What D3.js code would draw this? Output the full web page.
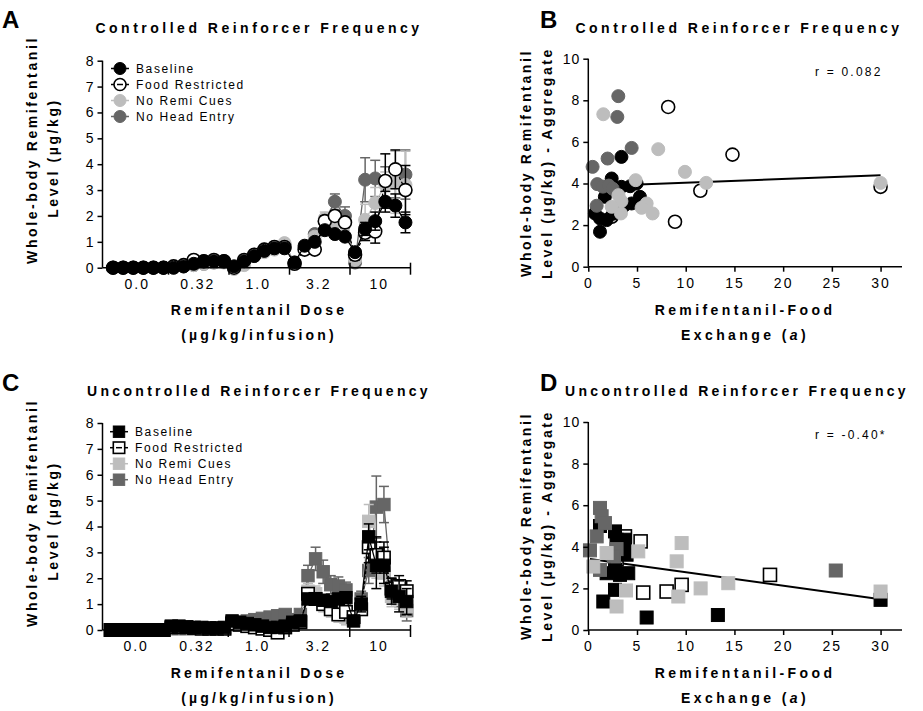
<!DOCTYPE html>
<html><head><meta charset="utf-8">
<script src="https://cdn.jsdelivr.net/npm/d3@7"></script>
<style>body{margin:0;background:#fff}svg{display:block;font-family:"Liberation Sans",Arial,sans-serif}</style>
</head><body>
<script>
// ---------- data ----------
const seriesNames = ["Baseline","Food Restricted","No Remi Cues","No Head Entry"];
const doseLabels = ["0.0","0.32","1.0","3.2","10"];

// Panel A: 30 sessions (6 per dose)
const A_baseline = [0,0,0,0,0,0, 0,0.05,0.15,0.25,0.25,0.25, 0.05,0.25,0.45,0.65,0.75,0.75, 0.2,0.85,1.0,1.45,1.3,1.2, 0.6,1.5,1.8,2.55,2.4,1.75];
const A_baselineErr = [0,0,0,0,0,0, 0,0,0,0,0,0, 0,0,0,0,0,0, 0.05,0.1,0.1,0.15,0.1,0.1, 0.1,0.25,0.35,0.4,0.45,0.4];
const A_food = [0,0,0,0,0,0, 0.05,0.1,0.3,0.25,0.3,0.25, 0,0.3,0.5,0.7,0.8,0.8, 0.15,0.7,0.7,1.8,2.0,1.75, 0.5,1.35,1.4,3.35,3.8,3.0];
const A_foodErr = [0,0,0,0,0,0, 0,0,0,0,0,0, 0,0,0,0,0,0, 0.05,0.1,0.1,0.2,0.2,0.2, 0.2,0.3,0.45,1.05,0.75,0.95];
const A_noCues = [0,0,0,0,0,0, 0,0.05,0.1,0.15,0.2,0.2, -0.05,0.1,0.45,0.6,0.7,0.95, 0.15,0.8,1.2,1.9,1.8,1.7, 0.3,1.85,2.5,3.2,3.3,3.2];
const A_noCuesErr = [0,0,0,0,0,0, 0,0,0,0,0,0, 0,0,0,0,0,0, 0.05,0.1,0.15,0.25,0.25,0.25, 0.1,0.6,0.6,0.5,1.2,1.3];
const A_noHead = [0,0,0,0,0,0, 0,0.05,0.1,0.15,0.2,0.25, 0.05,0.2,0.5,0.7,0.8,0.9, 0.2,0.8,1.3,1.8,2.55,2.0, 0.2,3.4,3.45,3.3,3.3,3.6];
const A_noHeadErr = [0,0,0,0,0,0, 0,0,0,0,0,0, 0,0,0,0,0,0, 0.05,0.1,0.1,0.25,0.3,0.35, 0.1,0.85,0.7,0.6,0.6,0.95];

// Panel C: 40 sessions (8 per dose)
const C_baseline = [0,0,0,0,0,0,0,0, 0.15,0.15,0.12,0.1,0.1,0.08,0.08,0.1, 0.35,0.3,0.25,0.2,0.15,0.1,0.1,0.15, 0.3,0.35,1.2,1.2,1.15,1.1,1.2,1.25, 0.35,1.0,3.6,2.5,2.5,1.5,1.3,1.1];
const C_baselineErr = [0,0,0,0,0,0,0,0, 0,0,0,0,0,0,0,0, 0,0,0,0,0,0,0,0, 0.05,0.05,0.2,0.2,0.2,0.2,0.2,0.2, 0.1,0.3,0.5,0.9,0.7,0.5,0.6,0.5];
const C_food = [0,0,0,0,0,0,0,0, 0.1,0.1,0.1,0.08,0.05,0.05,0.05,0.05, 0.25,0.2,0.15,0.1,0.05,0,-0.1,0.1, 0.2,0.3,1.4,1.2,1.0,0.8,0.6,0.7, 0.5,0.8,3.2,2.9,2.8,1.6,1.7,1.5];
const C_foodErr = [0,0,0,0,0,0,0,0, 0,0,0,0,0,0,0,0, 0,0,0,0,0,0,0,0, 0.05,0.05,0.2,0.2,0.2,0.2,0.2,0.2, 0.1,0.2,0.6,0.7,0.6,0.4,0.4,0.4];
const C_noCues = [0,0,0,0,0,0,0,0, 0.05,0.05,0.05,0.05,0.05,0.05,0.05,0.05, 0.2,0.2,0.15,0.15,0.1,0.1,0.05,0.1, 0.2,0.3,1.5,1.4,1.0,0.8,0.6,0.5, 0.4,0.9,4.2,2.5,2.2,1.3,1.2,0.9];
const C_noCuesErr = [0,0,0,0,0,0,0,0, 0,0,0,0,0,0,0,0, 0,0,0,0,0,0,0,0, 0.05,0.05,0.3,0.3,0.3,0.3,0.3,0.3, 0.1,0.3,0.65,0.5,0.5,0.4,0.4,0.4];
const C_noHead = [0,0,0,0,0,0,0,0, 0.05,0.05,0.05,0.05,0.05,0.05,0.05,0.05, 0.3,0.3,0.35,0.4,0.45,0.5,0.55,0.6, 0.4,0.6,2.1,2.75,2.25,1.75,1.7,1.55, 0.5,1.2,2.3,4.75,4.85,1.5,1.3,0.75];
const C_noHeadErr = [0,0,0,0,0,0,0,0, 0,0,0,0,0,0,0,0, 0,0,0,0,0,0,0,0, 0.05,0.05,0.4,0.45,0.45,0.35,0.35,0.3, 0.1,0.3,0.5,1.2,0.7,0.4,0.4,0.4];

// Panel B: exchange (a) vs aggregate level, controlled
const B_baselineX = [1.2,0.68,1.2,1.88,1.7,2.4,2.2,3.4,3.4,4.3,4.45,5.3,4.96,2.6,3.6];
const B_baselineY = [1.68,2.56,2.32,2.24,3.36,4.24,3.84,5.28,3.84,3.87,3.04,3.36,4.0,2.55,2.9];
const B_foodX = [8.2,14.8,11.5,8.9,30.0,2.4];
const B_foodY = [7.68,5.39,3.65,2.16,3.84,2.4];
const B_noCuesX = [1.54,7.18,9.92,12.1,30.0,4.86,3.1,3.4,5.99,5.47,6.6,3.35,2.4];
const B_noCuesY = [7.33,5.65,4.56,4.03,4.03,4.16,3.44,3.15,3.04,2.83,2.56,2.56,2.88];
const B_noHeadX = [0.44,3.08,2.98,4.45,1.98,0.86,0.92,1.5,2.1,2.5];
const B_noHeadY = [4.8,8.2,7.2,5.71,5.2,2.93,3.97,3.85,3.9,3.75];
const B_fit = [3.86, 0.018]; // intercept, slope
const B_r = "r = 0.082";

// Panel D: exchange (a) vs aggregate level, uncontrolled
const D_baselineX = [1.54,2.74,5.99,13.3,30,1.2,2.74,3.76,3.93,1.88,3.25,4.1,2.74,3.76,2.9];
const D_baselineY = [1.37,1.93,0.6,0.72,1.45,5.0,4.74,4.34,3.62,2.73,2.65,2.73,2.9,3.94,4.34];
const D_foodX = [5.37,5.64,8.04,9.58,18.65,3.76,2.9];
const D_foodY = [4.26,1.8,1.85,2.17,2.65,4.5,3.4];
const D_noCuesX = [9.58,9.07,5.13,9.24,11.53,14.37,30,3.87,2.9,0.51,1.88];
const D_noCuesY = [4.18,3.3,3.78,1.61,2.0,2.25,1.85,1.9,1.13,3.05,3.7];
const D_noHeadX = [1.2,1.37,1.71,0.86,0.17,2.9,2.63,1.2,25.4];
const D_noHeadY = [5.87,5.47,5.14,4.5,3.83,3.89,3.54,2.89,2.86];
const D_fit = [3.43, -0.065];
const D_r = "r = -0.40*";

const doseTicksA = [0, 1, 2, 3, 4, 5, 6, 7, 8];
const expTicksX = [0, 5, 10, 15, 20, 25, 30];
const expTicksY = [0, 2, 4, 6, 8, 10];

// ---------- styles ----------
const stroke = ["#000","#000","#bdbdbd","#666666"];
const fill = ["#000","#fff","#bdbdbd","#666666"];
const dash = [null,"3,2",null,null];
const drawOrder = [3,2,1,0];

const svg = d3.select("body").append("svg").attr("width",923).attr("height",711);

function txt(x,y,s,o={}){
  const t = svg.append("text").attr("x",x).attr("y",y).text(s)
    .attr("font-size",o.size||14).attr("font-weight",o.bold?"bold":"normal")
    .attr("text-anchor",o.anchor||"start").style("letter-spacing",(o.ls||0)+"px");
  if(o.rot) t.attr("transform",`rotate(-90,${x},${y})`);
  return t;
}

function marker(g, shape, cx, cy, r, si){
  if(shape==="circle"){
    g.append("circle").attr("cx",cx).attr("cy",cy).attr("r",r)
      .attr("fill",fill[si]).attr("stroke",stroke[si]).attr("stroke-width",si===1?1.6:1);
  } else {
    g.append("rect").attr("x",cx-r).attr("y",cy-r).attr("width",2*r).attr("height",2*r)
      .attr("fill",fill[si]).attr("stroke",stroke[si]).attr("stroke-width",si===1?1.6:1);
  }
}

function dosePanel(o){
  const x = d3.scaleLinear().domain([0,o.n*5+0.5]).range([103,410.5]);
  const y = d3.scaleLinear().domain([0,8]).range([o.y0,o.y0-207]);
  const g = svg.append("g");
  const data = o.series;
  drawOrder.forEach(si=>{
    const vals = data[si][0], errs = data[si][1];
    const pts = vals.map((v,i)=>[x(i+1),y(v)]);
    g.append("path").attr("d",d3.line()(pts)).attr("fill","none")
      .attr("stroke",stroke[si]).attr("stroke-width",1.3).attr("stroke-dasharray",dash[si]);
    vals.forEach((v,i)=>{
      const e = errs[i]; if(e<=0.06) return;
      const xx = x(i+1);
      g.append("line").attr("x1",xx).attr("x2",xx).attr("y1",y(v-e)).attr("y2",y(v+e)).attr("stroke",stroke[si]).attr("stroke-width",1.5);
      [v-e,v+e].forEach(b=>g.append("line").attr("x1",xx-5).attr("x2",xx+5).attr("y1",y(b)).attr("y2",y(b)).attr("stroke",stroke[si]).attr("stroke-width",1.5));
    });
    vals.forEach((v,i)=>marker(g,o.shape,x(i+1),y(v),o.r,si));
  });
  // axes
  const ya = svg.append("g").attr("transform",`translate(102.5,0)`)
    .call(d3.axisLeft(y).tickValues(doseTicksA).tickSize(5).tickPadding(4).tickFormat(d3.format("d")));
  ya.select(".domain").attr("stroke-width",1.5).attr("d",`M-0,${o.y0}V${o.y0-207}`);
  ya.selectAll(".tick line").attr("stroke-width",1.5);
  ya.selectAll("text").attr("font-size",14).attr("font-family","Liberation Sans, Arial");
  const xa = svg.append("g").attr("transform",`translate(0,${o.y0})`);
  xa.append("line").attr("x1",102.5).attr("x2",x(o.n*5+0.5)).attr("stroke","#000").attr("stroke-width",1.5);
  doseLabels.forEach((lab,k)=>{
    const b = x((k+1)*o.n+0.5);
    xa.append("line").attr("x1",b).attr("x2",b).attr("y1",-5).attr("y2",7).attr("stroke","#000").attr("stroke-width",1.5);
    xa.append("text").attr("x",x(k*o.n+o.n/2+0.5)-1).attr("y",21).attr("text-anchor","middle")
      .attr("font-size",14).style("letter-spacing","2px").text(lab);
  });
  // legend
  const lg = svg.append("g");
  seriesNames.forEach((nm,si)=>{
    const cy = o.legY + si*16;
    lg.append("line").attr("x1",o.legX-9).attr("x2",o.legX+9).attr("y1",cy).attr("y2",cy)
      .attr("stroke",stroke[si]).attr("stroke-width",1.5);
    marker(lg,o.shape,o.legX,cy,o.r-0.5,si);
    if(si===1) lg.append("line").attr("x1",o.legX-3).attr("x2",o.legX+3).attr("y1",cy).attr("y2",cy).attr("stroke","#000").attr("stroke-width",1.5);
    lg.append("text").attr("x",o.legX+16).attr("y",cy+4.5).attr("font-size",12).style("letter-spacing","1.6px").text(nm);
  });
}

function scatterPanel(o){
  const x = d3.scaleLinear().domain([0,32.2]).range([588.3,902]);
  const y = d3.scaleLinear().domain([0,10]).range([o.y0,o.y0-208]);
  const g = svg.append("g");
  const allX = o.series.flatMap(s=>s[0]);
  const x0 = d3.min(allX), x1 = d3.max(allX);
  g.append("line").attr("x1",x(x0)).attr("x2",x(x1)).attr("y1",y(o.fit[0]+o.fit[1]*x0)).attr("y2",y(o.fit[0]+o.fit[1]*x1))
    .attr("stroke","#000").attr("stroke-width",2);
  [1,0,3,2].forEach(si=>{
    const [xs,ys] = o.series[si];
    xs.forEach((xv,i)=>marker(g,o.shape,x(xv),y(ys[i]),o.r,si));
  });
  const ya = svg.append("g").attr("transform",`translate(588.3,0)`)
    .call(d3.axisLeft(y).tickValues(expTicksY).tickSize(5).tickPadding(3).tickFormat(d3.format("d")));
  ya.select(".domain").attr("stroke-width",1.5).attr("d",`M0,${o.y0}V${o.y0-208}`);
  ya.selectAll(".tick line").attr("stroke-width",1.5);
  ya.selectAll("text").attr("font-size",14).attr("font-family","Liberation Sans, Arial").style("letter-spacing","1px");
  const xa = svg.append("g").attr("transform",`translate(0,${o.y0})`)
    .call(d3.axisBottom(x).tickValues(expTicksX).tickSize(5).tickPadding(6).tickFormat(d3.format("d")));
  xa.select(".domain").attr("stroke-width",1.5).attr("d",`M588.3,0H902`);
  xa.selectAll(".tick line").attr("stroke-width",1.5);
  xa.selectAll("text").attr("font-size",14).attr("font-family","Liberation Sans, Arial").style("letter-spacing","2px");
  txt(815,o.y0-191,o.r_text,{size:12,ls:2.2});
}

dosePanel({n:6,y0:267.7,shape:"circle",r:6.5,legX:120,legY:68.5,
  series:[[A_baseline,A_baselineErr],[A_food,A_foodErr],[A_noCues,A_noCuesErr],[A_noHead,A_noHeadErr]]});
dosePanel({n:8,y0:630,shape:"square",r:6.2,legX:119,legY:431.7,
  series:[[C_baseline,C_baselineErr],[C_food,C_foodErr],[C_noCues,C_noCuesErr],[C_noHead,C_noHeadErr]]});
scatterPanel({y0:266.7,shape:"circle",r:6.5,fit:B_fit,r_text:B_r,
  series:[[B_baselineX,B_baselineY],[B_foodX,B_foodY],[B_noCuesX,B_noCuesY],[B_noHeadX,B_noHeadY]]});
scatterPanel({y0:630,shape:"square",r:6.5,fit:D_fit,r_text:D_r,
  series:[[D_baselineX,D_baselineY],[D_foodX,D_foodY],[D_noCuesX,D_noCuesY],[D_noHeadX,D_noHeadY]]});

// ---------- text ----------
[[0,"A","B"],[363,"C","D"]].forEach(([dy,l1,l2])=>{
  txt(2,28+dy,l1,{size:24,bold:true});
  txt(540,28+dy,l2,{size:24,bold:true});
});
txt(259,33,"Controlled Reinforcer Frequency",{bold:true,anchor:"middle",ls:3.5});
txt(739,33,"Controlled Reinforcer Frequency",{bold:true,anchor:"middle",ls:3.5});
txt(259,396,"Uncontrolled Reinforcer Frequency",{bold:true,anchor:"middle",ls:3.3});
txt(737,396,"Uncontrolled Reinforcer Frequency",{bold:true,anchor:"middle",ls:3.3});

[0,363].forEach(dy=>{
  txt(37,150+dy,"Whole-body Remifentanil",{bold:true,anchor:"middle",ls:2.6,rot:true});
  txt(58,158+dy,"Level (µg/kg)",{bold:true,anchor:"middle",ls:2.6,rot:true});
  txt(259,315+dy,"Remifentanil Dose",{bold:true,anchor:"middle",ls:3.2});
  txt(259,340+dy,"(µg/kg/infusion)",{bold:true,anchor:"middle",ls:3.2});
  txt(531,163+dy,"Whole-body Remifentanil",{bold:true,anchor:"middle",ls:2.6,rot:true});
  txt(552,163+dy,"Level (µg/kg) - Aggregate",{bold:true,anchor:"middle",ls:2.6,rot:true});
  txt(745,315+dy,"Remifentanil-Food",{bold:true,anchor:"middle",ls:3.4});
  const t = txt(745,340+dy,"Exchange (",{bold:true,anchor:"middle",ls:3.4});
  t.append("tspan").attr("font-style","italic").text("a");
  t.append("tspan").text(")");
});
</script>
</body></html>
